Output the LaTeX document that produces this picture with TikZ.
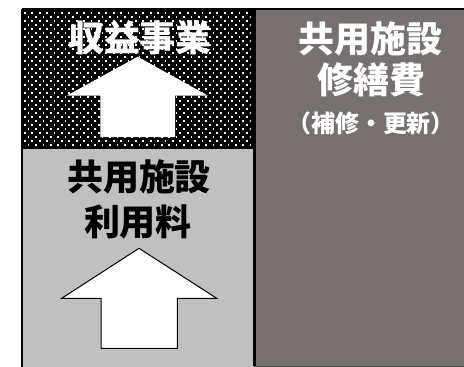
\documentclass[tikz,border=0pt]{standalone}
\usepackage{fontspec}
\newfontfamily\jp{Noto Sans CJK JP}
\definecolor{lightgr}{RGB}{192,192,192}
\definecolor{darkgr}{RGB}{118,113,112}
\tikzset{
  bigtext/.style={font=\jp\bfseries\fontsize{36}{40}\selectfont, inner sep=0pt},
  smalltext/.style={font=\jp\bfseries\fontsize{24}{28}\selectfont, inner sep=0pt},
  uparrow/.style={fill=white},
}
\begin{document}
\begin{tikzpicture}[x=1pt,y=-1pt]
\useasboundingbox (0,0) rectangle (464,367);
% boxes
\fill[black] (22,9) rectangle (254,148);
\begin{scope}
\clip (23,10) rectangle (253,147);
\foreach \r in {0,...,35}{
  \pgfmathsetmacro{\yy}{12+4*\r}
  \pgfmathsetmacro{\off}{mod(\r,2)*3.7}
  \foreach \c in {0,...,32}{
    \fill[white] ({24+\off+7.4*\c},\yy) rectangle ++(1.7,1.7);
  }
}
\end{scope}
\fill[lightgr] (22,148) rectangle (254,367);
\fill[darkgr] (254,9) rectangle (464,366);
\draw[line width=1.2pt] (22,9) -- (464,9);
\draw[line width=2.5pt] (22,9) -- (22,367);
\draw[line width=3pt] (254.5,9) -- (254.5,366);
\draw[line width=1pt] (22,148) -- (254,148);
\draw[line width=1pt,black!70] (254,366) -- (464,366);
% arrows
\fill[white] (137.7,56.7) -- (208,95.7) -- (175,95.7) -- (175,137) -- (100.3,137) -- (100.3,95.7) -- (66.7,95.7) -- cycle;
\draw[fill=white, line width=1pt] (139,248.3) -- (216.7,298.3) -- (177.3,298.3) -- (177.3,348.3) -- (101,348.3) -- (101,298.3) -- (61.7,298.3) -- cycle;
% texts
\node[bigtext, text=white] (t1) at (140,38) {収益事業};
\node[bigtext] (t2) at (139,176.5) {共用施設};
\node[bigtext] (t3) at (138,221.5) {利用料};
\node[bigtext, text=white] (t4) at (370,39) {共用施設};
\node[bigtext, text=white] (t5) at (371,80) {修繕費};
\node[smalltext, text=white] (t6) at (371,123.5) {（補修・更新）};
\end{tikzpicture}
\end{document}
